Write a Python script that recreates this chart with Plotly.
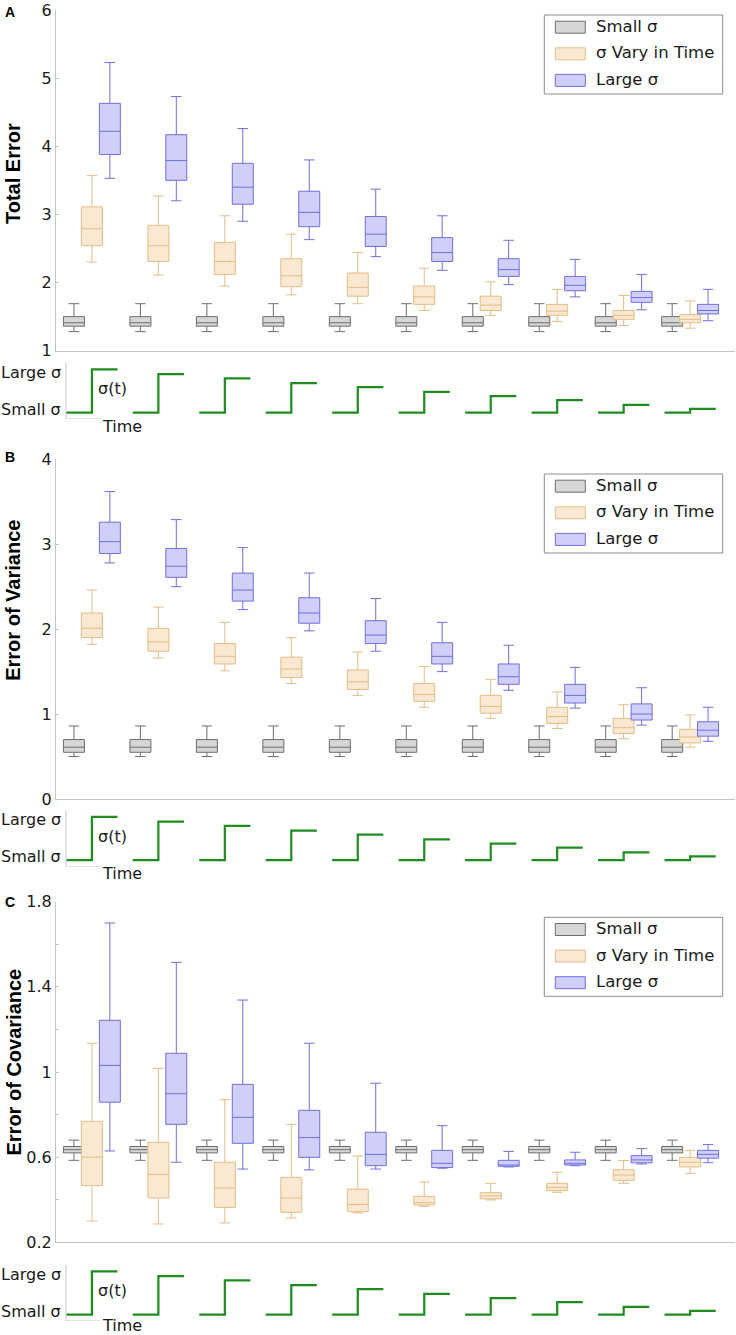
import plotly.graph_objects as go

# grupos (ampiezza decrescente del salto di sigma)
groups = [1, 2, 3, 4, 5, 6, 7, 8, 9, 10]
series_names = ["Small σ", "σ Vary in Time", "Large σ"]

# statistiche per gruppo: (baffo inferiore, q1, mediana, q3, baffo superiore)
total_small = [
    (1.28, 1.36, 1.41, 1.50, 1.69), (1.28, 1.36, 1.41, 1.50, 1.69),
    (1.28, 1.36, 1.41, 1.50, 1.69), (1.28, 1.36, 1.41, 1.50, 1.69),
    (1.28, 1.36, 1.41, 1.50, 1.69), (1.28, 1.36, 1.41, 1.50, 1.69),
    (1.28, 1.36, 1.41, 1.50, 1.69), (1.28, 1.36, 1.41, 1.50, 1.69),
    (1.28, 1.36, 1.41, 1.50, 1.69), (1.28, 1.36, 1.41, 1.50, 1.69),
]
total_vary = [
    (2.30, 2.54, 2.79, 3.11, 3.57), (2.11, 2.31, 2.54, 2.84, 3.27),
    (1.95, 2.12, 2.31, 2.59, 2.98), (1.82, 1.94, 2.10, 2.35, 2.71),
    (1.69, 1.80, 1.93, 2.14, 2.44), (1.59, 1.68, 1.79, 1.95, 2.21),
    (1.52, 1.59, 1.67, 1.80, 2.01), (1.43, 1.52, 1.58, 1.68, 1.90),
    (1.37, 1.46, 1.52, 1.59, 1.81), (1.33, 1.41, 1.46, 1.53, 1.73),
]
total_large = [
    (3.53, 3.88, 4.22, 4.63, 5.23), (3.20, 3.50, 3.79, 4.17, 4.73),
    (2.90, 3.15, 3.40, 3.75, 4.26), (2.63, 2.82, 3.03, 3.34, 3.80),
    (2.38, 2.53, 2.71, 2.97, 3.37), (2.18, 2.31, 2.44, 2.66, 2.98),
    (1.97, 2.09, 2.19, 2.35, 2.62), (1.79, 1.88, 1.96, 2.09, 2.34),
    (1.60, 1.71, 1.78, 1.87, 2.12), (1.44, 1.54, 1.59, 1.68, 1.90),
]

var_small = [
    (0.50, 0.55, 0.61, 0.70, 0.86), (0.50, 0.55, 0.61, 0.70, 0.86),
    (0.50, 0.55, 0.61, 0.70, 0.86), (0.50, 0.55, 0.61, 0.70, 0.86),
    (0.50, 0.55, 0.61, 0.70, 0.86), (0.50, 0.55, 0.61, 0.70, 0.86),
    (0.50, 0.55, 0.61, 0.70, 0.86), (0.50, 0.55, 0.61, 0.70, 0.86),
    (0.50, 0.55, 0.61, 0.70, 0.86), (0.50, 0.55, 0.61, 0.70, 0.86),
]
var_vary = [
    (1.82, 1.90, 2.01, 2.19, 2.46), (1.66, 1.74, 1.85, 2.01, 2.26),
    (1.51, 1.59, 1.68, 1.83, 2.08), (1.36, 1.43, 1.53, 1.67, 1.90),
    (1.22, 1.29, 1.38, 1.52, 1.73), (1.08, 1.15, 1.23, 1.36, 1.56),
    (0.95, 1.01, 1.09, 1.22, 1.41), (0.83, 0.89, 0.97, 1.08, 1.26),
    (0.71, 0.77, 0.84, 0.95, 1.11), (0.61, 0.66, 0.73, 0.82, 0.99),
]
var_large = [
    (2.78, 2.89, 3.03, 3.26, 3.62), (2.50, 2.61, 2.74, 2.95, 3.29),
    (2.23, 2.33, 2.46, 2.66, 2.96), (1.98, 2.07, 2.19, 2.37, 2.66),
    (1.74, 1.83, 1.93, 2.10, 2.36), (1.50, 1.59, 1.68, 1.84, 2.08),
    (1.28, 1.35, 1.44, 1.59, 1.81), (1.07, 1.13, 1.22, 1.35, 1.55),
    (0.87, 0.93, 1.00, 1.12, 1.31), (0.68, 0.74, 0.81, 0.91, 1.08),
]

cov_small = [
    (0.585, 0.62, 0.635, 0.65, 0.68), (0.585, 0.62, 0.635, 0.65, 0.68),
    (0.585, 0.62, 0.635, 0.65, 0.68), (0.585, 0.62, 0.635, 0.65, 0.68),
    (0.585, 0.62, 0.635, 0.65, 0.68), (0.585, 0.62, 0.635, 0.65, 0.68),
    (0.585, 0.62, 0.635, 0.65, 0.68), (0.585, 0.62, 0.635, 0.65, 0.68),
    (0.585, 0.62, 0.635, 0.65, 0.68), (0.585, 0.62, 0.635, 0.65, 0.68),
]
cov_vary = [
    (0.300, 0.466, 0.600, 0.768, 1.135), (0.286, 0.408, 0.519, 0.670, 1.017),
    (0.291, 0.364, 0.455, 0.576, 0.870), (0.314, 0.341, 0.408, 0.505, 0.754),
    (0.338, 0.344, 0.377, 0.450, 0.605), (0.369, 0.375, 0.386, 0.416, 0.483),
    (0.399, 0.404, 0.418, 0.433, 0.477), (0.435, 0.443, 0.458, 0.477, 0.529),
    (0.477, 0.491, 0.516, 0.541, 0.584), (0.524, 0.554, 0.576, 0.599, 0.632),
]
cov_large = [
    (0.629, 0.858, 1.031, 1.243, 1.700), (0.576, 0.754, 0.898, 1.088, 1.515),
    (0.544, 0.665, 0.787, 0.942, 1.338), (0.540, 0.599, 0.692, 0.820, 1.135),
    (0.544, 0.560, 0.613, 0.717, 0.947), (0.548, 0.551, 0.571, 0.632, 0.748),
    (0.554, 0.557, 0.563, 0.585, 0.627), (0.560, 0.563, 0.571, 0.587, 0.623),
    (0.568, 0.573, 0.587, 0.607, 0.640), (0.574, 0.595, 0.613, 0.632, 0.659),
]

# livello alto di sigma(t) nello schema sotto ogni pannello (basso = 0)
sigma_high = [1.0, 0.89, 0.79, 0.68, 0.59, 0.48, 0.38, 0.29, 0.18, 0.09]

panels = [
    dict(letter="A", title="Total Error", data=[total_small, total_vary, total_large],
         yrange=[1, 6], dtick=1, tick0=1, minor=None),
    dict(letter="B", title="Error of Variance", data=[var_small, var_vary, var_large],
         yrange=[0, 4], dtick=1, tick0=0, minor=None),
    dict(letter="C", title="Error of Covariance", data=[cov_small, cov_vary, cov_large],
         yrange=[0.2, 1.8], dtick=0.4, tick0=0.2, minor=0.2),
]

# geometria (pixel della pagina 736x1335)
W, H = 736, 1335
main_px = [(10, 350.7), (459.3, 799), (901.7, 1242.3)]
schema_px = [(363, 419), (810.5, 866.5), (1265, 1321)]
title_px = [174, 600.8, 1062.5]
letter_px = [12, 456.7, 901.7]
legend_px = [15, 474, 917.3]
time_px = [426, 873.5, 1325.5]

fill_colors = ["#d6d6d6", "#fbe8d2", "#cfcffa"]
line_colors = ["#6e6e6e", "#e3bd86", "#6f6fe3"]
offsets = [-0.27, 0, 0.27]
xrange_ = [0.46, 10.675]
xdomain = [56 / W, 735 / W]
font = "DejaVu Sans"
bold_font = "Liberation Sans"
axis_gray = "#c4c4c4"
text_color = "#1a1a1a"

fig = go.Figure()
layout = dict(
    width=W,
    height=H,
    margin=dict(l=0, r=0, t=0, b=0),
    paper_bgcolor="white",
    plot_bgcolor="white",
    boxmode="overlay",
    showlegend=False,
    font=dict(family=font, size=16, color=text_color),
)
annotations = []
shapes = []


def px_x(v):
    return v / W


def px_y(v):
    return 1 - v / H


for k, p in enumerate(panels):
    nm = 2 * k + 1
    ns = 2 * k + 2

    for s, (name, stats) in enumerate(zip(series_names, p["data"])):
        fig.add_trace(
            go.Box(
                x=[g + offsets[s] for g in groups],
                lowerfence=[v[0] for v in stats],
                q1=[v[1] for v in stats],
                median=[v[2] for v in stats],
                q3=[v[3] for v in stats],
                upperfence=[v[4] for v in stats],
                width=0.316,
                whiskerwidth=0.5,
                fillcolor=fill_colors[s],
                line=dict(color=line_colors[s], width=1),
                name=name,
                xaxis=f"x{nm}",
                yaxis=f"y{nm}",
                hoverinfo="skip",
            )
        )

    # schema sigma(t) a gradino
    xs, ys = [], []
    for g, h in zip(groups, sigma_high):
        xs += [g - 0.385, g, g, g + 0.385, None]
        ys += [0, 0, h, h, None]
    fig.add_trace(
        go.Scatter(
            x=xs, y=ys, mode="lines",
            line=dict(color="#1e8c1e", width=2.2),
            hoverinfo="skip",
            xaxis=f"x{ns}", yaxis=f"y{ns}",
        )
    )

    top, bot = main_px[k]
    layout[f"xaxis{nm}"] = dict(
        domain=xdomain, range=xrange_, anchor=f"y{nm}", automargin=False,
        showline=True, linecolor=axis_gray, linewidth=1,
        showticklabels=False, ticks="", showgrid=False, zeroline=False,
    )
    yax = dict(
        domain=[px_y(bot), px_y(top)], range=p["yrange"], anchor=f"x{nm}",
        automargin=False,
        showline=True, linecolor=axis_gray, linewidth=1,
        ticks="inside", ticklen=3, tickcolor=axis_gray,
        tick0=p["tick0"], dtick=p["dtick"],
        tickfont=dict(family=font, size=16, color=text_color),
        showgrid=False, zeroline=False,
    )
    if p["minor"]:
        yax["minor"] = dict(dtick=p["minor"], tick0=p["tick0"], ticks="inside",
                            ticklen=3, tickcolor=axis_gray)
    layout[f"yaxis{nm}"] = yax

    stop, sbot = schema_px[k]
    layout[f"xaxis{ns}"] = dict(domain=xdomain, range=xrange_, anchor=f"y{ns}",
                                visible=False, automargin=False)
    layout[f"yaxis{ns}"] = dict(domain=[px_y(sbot), px_y(stop)],
                                range=[-0.145, 1.145], anchor=f"x{ns}",
                                visible=False, automargin=False)

    # piccoli assi dello schema
    shapes.append(dict(type="line", xref=f"x{ns}", yref=f"y{ns}",
                       x0=0.61, x1=0.61, y0=-0.145, y1=1.145,
                       line=dict(color=axis_gray, width=1)))
    shapes.append(dict(type="line", xref=f"x{ns}", yref=f"y{ns}",
                       x0=0.61, x1=1.12, y0=-0.145, y1=-0.145,
                       line=dict(color=axis_gray, width=1)))

    annotations += [
        dict(text=f"<b>{p['title']}</b>", xref="paper", yref="paper",
             x=px_x(13), y=px_y(title_px[k]), textangle=-90, showarrow=False,
             xanchor="center", yanchor="middle",
             font=dict(family=bold_font, size=20, color="black")),
        dict(text=f"<b>{p['letter']}</b>", xref="paper", yref="paper",
             x=px_x(10), y=px_y(letter_px[k]), showarrow=False,
             xanchor="center", yanchor="middle",
             font=dict(family=bold_font, size=14, color="black")),
        dict(text="Large σ", xref="paper", yref=f"y{ns}", x=px_x(63), y=0.93,
             xanchor="right", yanchor="middle", showarrow=False),
        dict(text="Small σ", xref="paper", yref=f"y{ns}", x=px_x(63), y=0.08,
             xanchor="right", yanchor="middle", showarrow=False),
        dict(text="σ(t)", xref=f"x{ns}", yref=f"y{ns}", x=1.06, y=0.55,
             xanchor="left", yanchor="middle", showarrow=False),
        dict(text="Time", xref=f"x{ns}", yref="paper", x=1.12,
             y=px_y(time_px[k]), xanchor="left", yanchor="middle",
             showarrow=False),
    ]

    # legenda disegnata a mano (campioni rettangolari 30x12)
    ltop = legend_px[k]
    shapes.append(dict(type="rect", xref="paper", yref="paper",
                       x0=px_x(544.3), x1=px_x(722.7),
                       y0=px_y(ltop + 79), y1=px_y(ltop),
                       fillcolor="white", line=dict(color="#8c8c8c", width=1)))
    for s, name in enumerate(series_names):
        cy = ltop + 12.2 + 26.6 * s
        shapes.append(dict(type="rect", xref="paper", yref="paper",
                           x0=px_x(555.3), x1=px_x(585.3),
                           y0=px_y(cy + 6), y1=px_y(cy - 6),
                           fillcolor=fill_colors[s],
                           line=dict(color=line_colors[s], width=1)))
        annotations.append(dict(text=name, xref="paper", yref="paper",
                                x=px_x(594), y=px_y(cy - 1), xanchor="left",
                                yanchor="middle", showarrow=False,
                                font=dict(size=16.5, color=text_color)))

layout["annotations"] = annotations
layout["shapes"] = shapes
fig.update_layout(**layout)
# la pagina ha un margine di 8px sul body: lo azzero
fig.write_html(
    "out.html",
    config={"displayModeBar": False},
    post_script="document.body.style.margin='0';",
)
